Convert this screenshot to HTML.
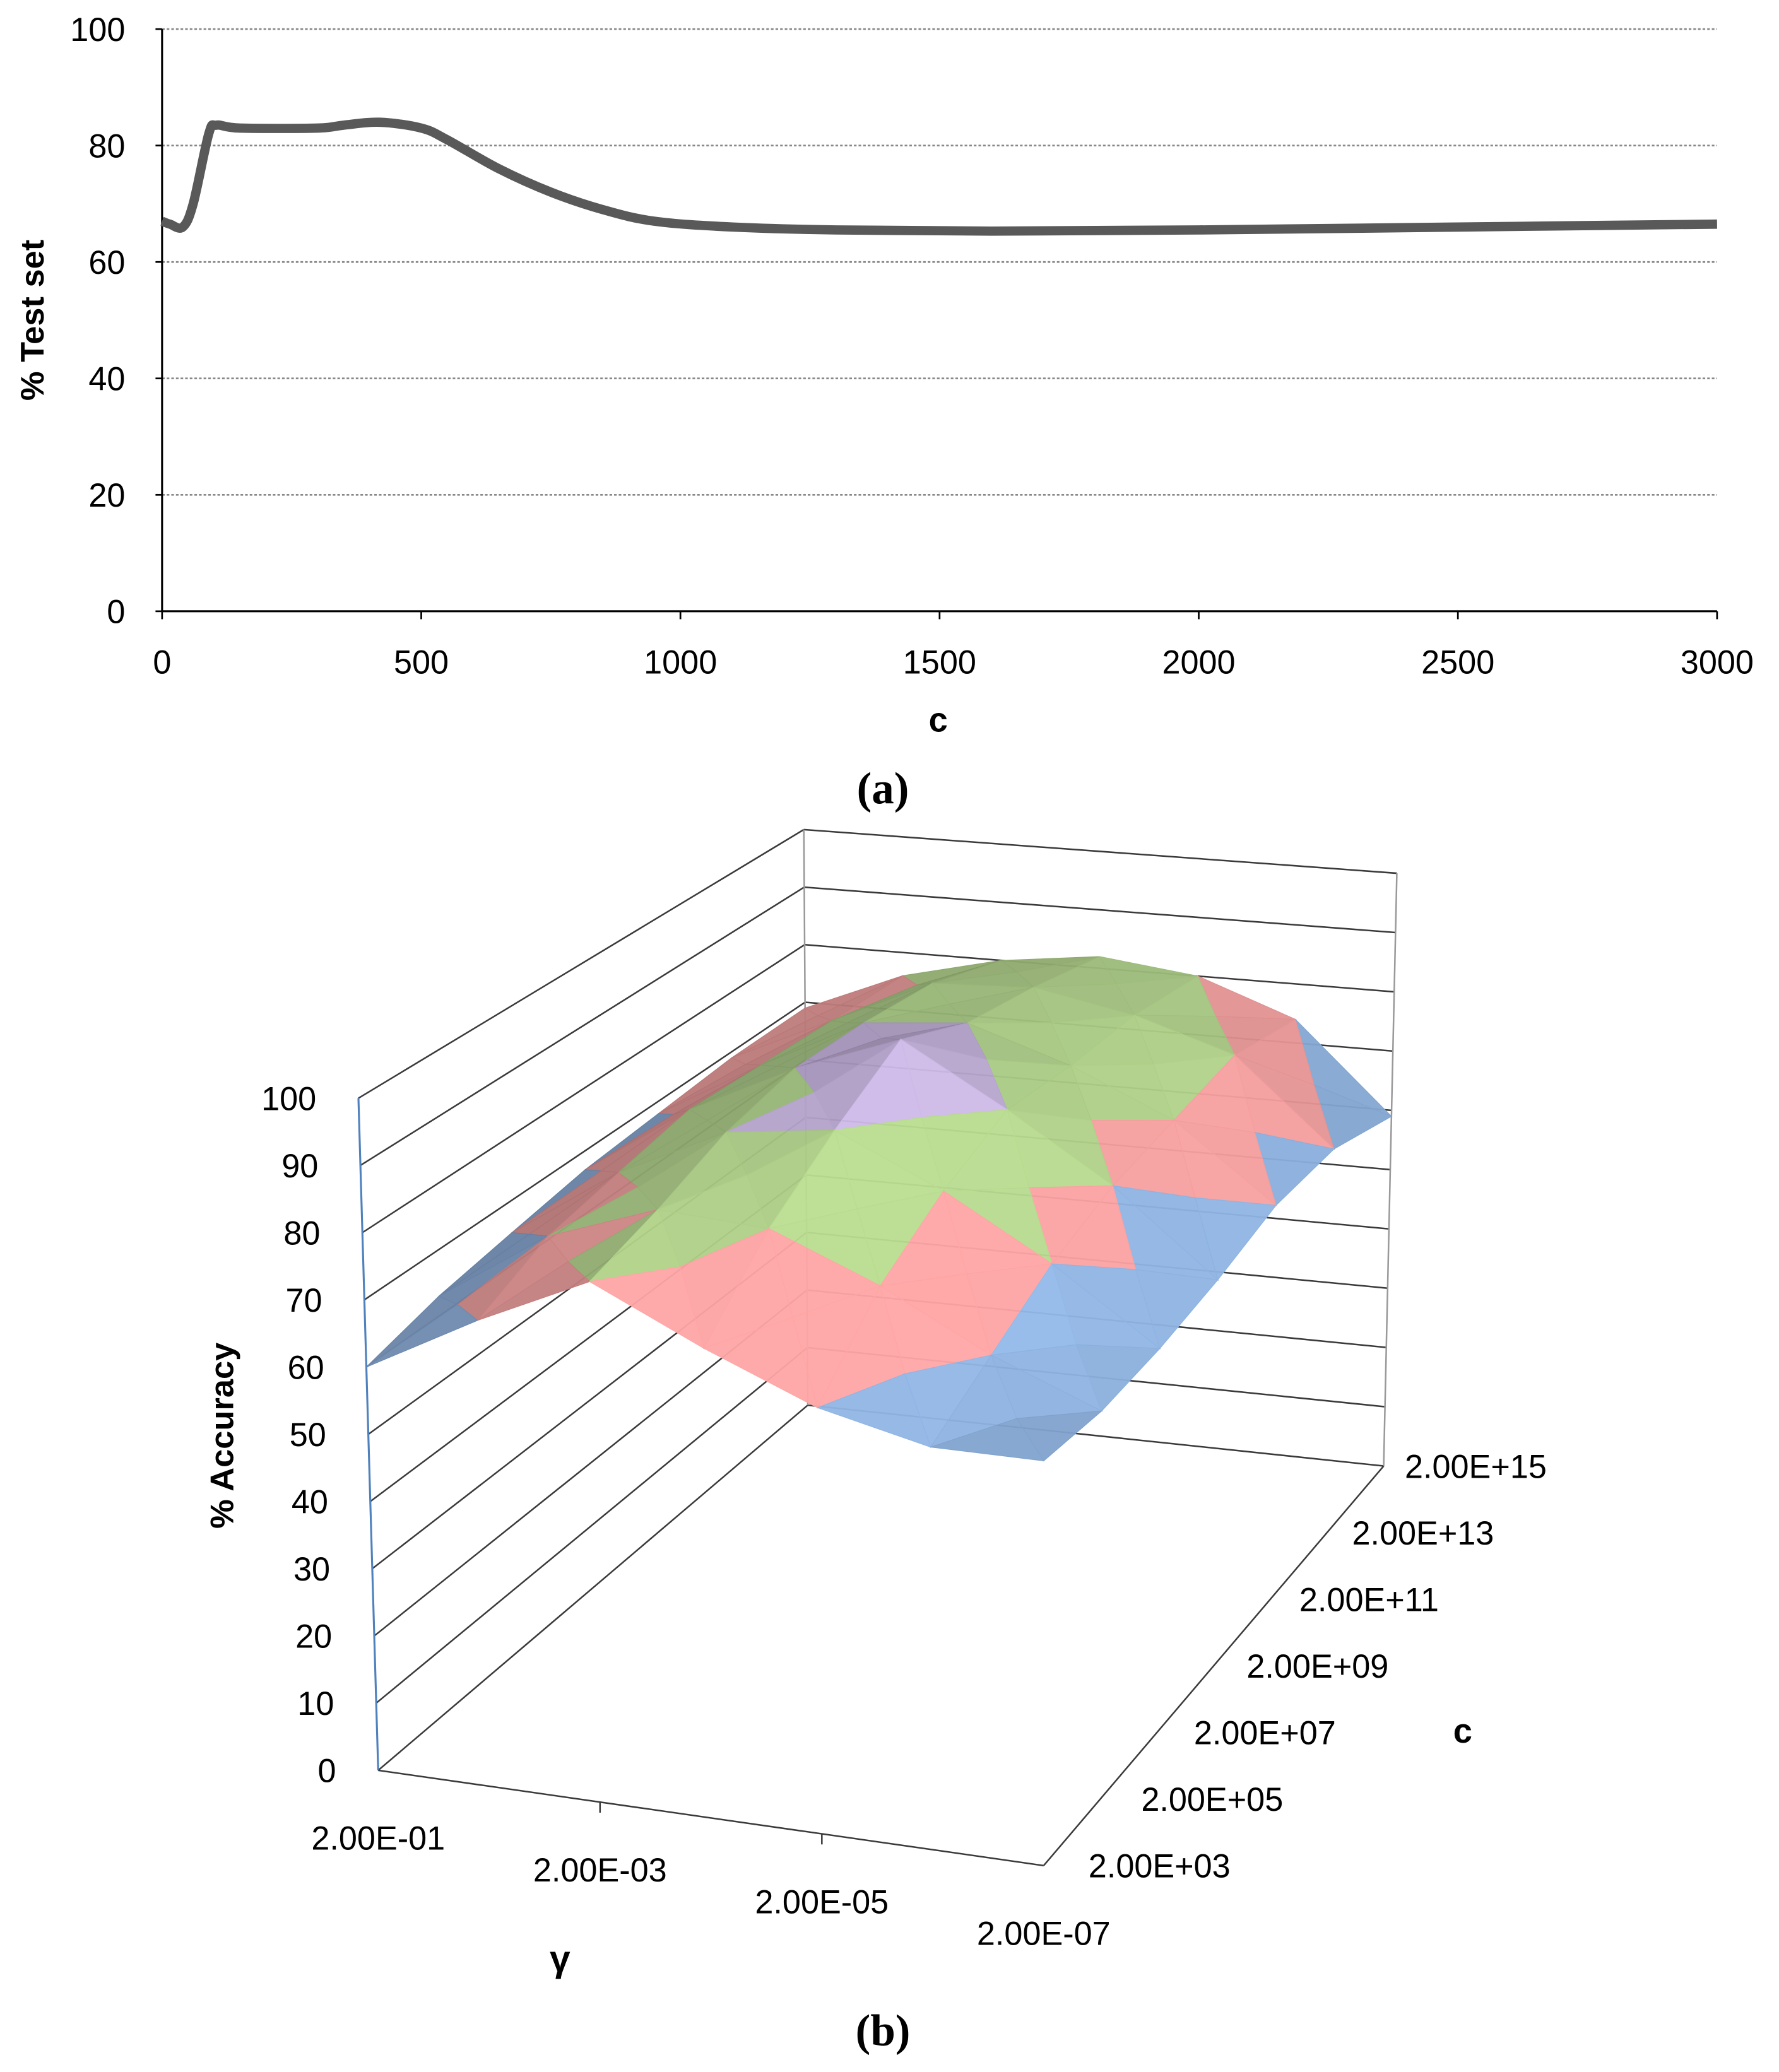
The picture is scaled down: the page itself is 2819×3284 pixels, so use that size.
<!DOCTYPE html>
<html><head><meta charset="utf-8">
<style>
html,body{margin:0;padding:0;background:#fff;}
svg{display:block;}
text{font-family:"Liberation Sans",sans-serif;fill:#000;}
</style></head>
<body>
<svg id="fig" width="2819" height="3284" viewBox="0 0 1350 1566" preserveAspectRatio="none" xmlns="http://www.w3.org/2000/svg">
<rect width="1350" height="1566" fill="#fff"/>
<g id="chartA"></g>
<g id="chartB"></g>
<text x="670" y="607" font-size="34" font-weight="bold" text-anchor="middle" style="font-family:'Liberation Serif',serif">(a)</text>
<text x="670" y="1546" font-size="34" font-weight="bold" text-anchor="middle" style="font-family:'Liberation Serif',serif">(b)</text>
</svg>
<script>
// ---------- Chart A data ----------
const cValues = [0, 15, 40, 60, 90, 105, 150, 300, 350, 420, 500, 550, 650, 750, 850, 950, 1100, 1300, 1600, 2000, 2500, 3000];
const accValues = [67, 66.5, 66, 70, 82, 83.5, 83, 83, 83.5, 84, 83, 81, 76, 72, 69, 67, 66, 65.5, 65.3, 65.5, 66, 66.5];
const xTicksA = [0, 500, 1000, 1500, 2000, 2500, 3000];
const yTicksA = [0, 20, 40, 60, 80, 100];

// ---------- Chart B data ----------
const gammaLabels = ["2.00E-01", "", "2.00E-03", "", "2.00E-05", "", "2.00E-07"];
const cLabels = ["2.00E+03", "2.00E+05", "2.00E+07", "2.00E+09", "2.00E+11", "2.00E+13", "2.00E+15"];
const zTicksB = [0, 10, 20, 30, 40, 50, 60, 70, 80, 90, 100];
// accuracy rows: one per c value (front -> back), columns per gamma value
const accRowC03 = [60, 70, 79, 72, 66, 63, 64];
const accRowC05 = [63, 75, 82, 82, 76, 68, 62];
const accRowC07 = [65, 77, 86, 89, 82, 73, 62];
const accRowC09 = [67, 79, 88, 95, 86, 76, 63];
const accRowC11 = [68, 78, 87, 89, 84, 77, 65];
const accRowC13 = [69, 77, 85, 86, 83, 78, 64];
const accRowC15 = [69, 76, 80, 82, 80, 74, 59];

const NS = "http://www.w3.org/2000/svg";
function mk(tag, attrs, parent) {
  const e = document.createElementNS(NS, tag);
  for (const k in attrs) e.setAttribute(k, attrs[k]);
  parent.appendChild(e);
  return e;
}

// ===== Chart A =====
(function () {
  const g = document.getElementById("chartA");
  const X0 = 123, X1 = 1303, Y0 = 462, Y1 = 22;
  const xs = c => X0 + c / 3000 * (X1 - X0);
  const ys = v => Y0 - v / 100 * (Y0 - Y1);
  yTicksA.forEach(v => {
    if (v > 0) {
      const l = mk("line", {x1: X0, x2: X1, y1: ys(v), y2: ys(v), stroke: "#888", "stroke-width": 1.3, "stroke-dasharray": "2,1.5"}, g);
      
      
    }
    const t = mk("text", {x: X0 - 28, y: ys(v) + 9, "font-size": 25, "text-anchor": "end"}, g);
    t.textContent = v;
    
    
    const tk = mk("line", {x1: X0 - 5, x2: X0, y1: ys(v), y2: ys(v), stroke: "#000", "stroke-width": 1.3}, g);
    
    
  });
  xTicksA.forEach(c => {
    const t = mk("text", {x: xs(c), y: 509, "font-size": 25, "text-anchor": "middle"}, g);
    t.textContent = c;
    
    
    const tk = mk("line", {x1: xs(c), x2: xs(c), y1: Y0, y2: Y0 + 6, stroke: "#000", "stroke-width": 1.3}, g);
    
    
  });
  const ya = mk("line", {x1: X0, x2: X0, y1: Y1, y2: Y0, stroke: "#000", "stroke-width": 1.5}, g);
  
  
  const xa = mk("line", {x1: X0, x2: X1, y1: Y0, y2: Y0, stroke: "#000", "stroke-width": 1.5}, g);
  
  
  const pts = cValues.map((c, i) => [xs(c), ys(accValues[i])]);
  let d = "M" + pts[0][0] + "," + pts[0][1];
  for (let i = 0; i < pts.length - 1; i++) {
    const p0 = pts[Math.max(0, i - 1)], p1 = pts[i], p2 = pts[i + 1], p3 = pts[Math.min(pts.length - 1, i + 2)];
    const c1 = [p1[0] + (p2[0] - p0[0]) / 6, p1[1] + (p2[1] - p0[1]) / 6];
    const c2 = [p2[0] - (p3[0] - p1[0]) / 6, p2[1] - (p3[1] - p1[1]) / 6];
    d += " C" + c1 + " " + c2 + " " + p2;
  }
  const line = mk("path", {d: d, fill: "none", stroke: "#595959", "stroke-width": 7, "stroke-linejoin": "round"}, g);
  
  
  const xt = mk("text", {x: 712, y: 553, "font-size": 26, "font-weight": "bold", "text-anchor": "middle"}, g);
  xt.textContent = "c";
  
  
  const yt = mk("text", {x: 0, y: 0, "font-size": 25, "font-weight": "bold", "text-anchor": "middle", transform: "translate(33,242) rotate(-90)"}, g);
  yt.textContent = "% Test set";
  
  
})();

// ===== Chart B =====
(function () {
  const g = document.getElementById("chartB");
  const rows = [accRowC03, accRowC05, accRowC07, accRowC09, accRowC11, accRowC13, accRowC15];
  const nU = gammaLabels.length, nV = cLabels.length;
  const F00 = [287, 1338], F10 = [792, 1410], F11 = [1050, 1108], F01 = [613, 1062];
  const H00 = [-15, -508], H10 = [0, -478], H11 = [10, -448], H01 = [-3, -435];
  const bil = (a, b, c, d, u, v) => [
    a[0] * (1 - u) * (1 - v) + b[0] * u * (1 - v) + c[0] * u * v + d[0] * (1 - u) * v,
    a[1] * (1 - u) * (1 - v) + b[1] * u * (1 - v) + c[1] * u * v + d[1] * (1 - u) * v];
  function P(u, v, z) {
    const f = bil(F00, F10, F11, F01, u, v), h = bil(H00, H10, H11, H01, u, v);
    return [f[0] + h[0] * z / 100, f[1] + h[1] * z / 100];
  }
  const ln = (a, b, attrs, name) => {
    const l = mk("line", Object.assign({x1: a[0], y1: a[1], x2: b[0], y2: b[1]}, attrs), g);
    
    
    return l;
  };
  const gs = {stroke: "#3a3a3a", "stroke-width": 1.2};
  zTicksB.forEach(z => {
    ln(P(0, 1, z), P(1, 1, z), gs, 'back-wall-gridline');
    ln(P(0, 0, z), P(0, 1, z), gs, 'side-wall-gridline');
    const p = P(0, 0, z);
    const t = mk("text", {x: p[0] - 32, y: p[1] + 9, "font-size": 25, "text-anchor": "end"}, g);
    t.textContent = z;
    
    
  });
  ln(P(0, 1, 0), P(0, 1, 100), {stroke: "#999", "stroke-width": 1.2}, 'back-left-edge');
  ln(P(1, 1, 0), P(1, 1, 100), {stroke: "#999", "stroke-width": 1.2}, 'back-right-edge');
  ln(P(0, 0, 0), P(0, 0, 100), {stroke: "#4f81bd", "stroke-width": 1.5}, 'z-axis');
  ln(P(0, 0, 0), P(1, 0, 0), gs, 'gamma-axis');
  ln(P(1, 0, 0), P(1, 1, 0), gs, 'c-axis');

  const tris = [];
  for (let j = 0; j < nV - 1; j++) for (let i = 0; i < nU - 1; i++) {
    const u0 = i / (nU - 1), u1 = (i + 1) / (nU - 1), v0 = j / (nV - 1), v1 = (j + 1) / (nV - 1);
    const c = [[u0, v0, rows[j][i]], [u1, v0, rows[j][i + 1]], [u1, v1, rows[j + 1][i + 1]], [u0, v1, rows[j + 1][i]]];
    const m = [(u0 + u1) / 2, (v0 + v1) / 2, (c[0][2] + c[1][2] + c[2][2] + c[3][2]) / 4];
    for (let k = 0; k < 4; k++) {
      const a = c[k], b = c[(k + 1) % 4];
      const du = (a[0] + b[0] + m[0]) / 3, dv = (a[1] + b[1] + m[1]) / 3;
      tris.push({pts: [a, b, m], depth: dv + (1 - du) * 0.35});
    }
  }
  tris.sort((p, q) => q.depth - p.depth);
  const band = z => z < 70 ? [143, 180, 227] : z < 78 ? [248, 160, 160] : z < 88 ? [180, 215, 140] : [200, 180, 225];
  tris.forEach(t => {
    const zAvg = (t.pts[0][2] + t.pts[1][2] + t.pts[2][2]) / 3;
    const A = t.pts[0], B = t.pts[1], C = t.pts[2];
    const s = 100;
    const e1 = [(B[0] - A[0]) * s, (B[1] - A[1]) * s, B[2] - A[2]];
    const e2 = [(C[0] - A[0]) * s, (C[1] - A[1]) * s, C[2] - A[2]];
    let n = [e1[1] * e2[2] - e1[2] * e2[1], e1[2] * e2[0] - e1[0] * e2[2], e1[0] * e2[1] - e1[1] * e2[0]];
    if (n[2] < 0) n = n.map(x => -x);
    const L = Math.hypot(n[0], n[1], n[2]);
    const lit = (n[0] * 0.5 - n[1] * 0.5 + n[2] * 0.7) / L;
    const f = Math.max(0.45, Math.min(1.08, 0.55 + 0.5 * lit));
    const col = band(zAvg).map(x => Math.round(Math.min(255, x * f)));
    const sp = t.pts.map(p => P(p[0], p[1], p[2]).map(x => x.toFixed(1)).join(",")).join(" ");
    const poly = mk("polygon", {points: sp, fill: "rgb(" + col + ")", stroke: "rgb(" + col + ")", "stroke-width": 0.6, "fill-opacity": 0.95}, g);
    
    
  });

  gammaLabels.forEach((lab, i) => {
    const u = i / (nU - 1), p = P(u, 0, 0);
    if (i > 0 && i < nU - 1 && lab) ln(p, [p[0], p[1] + 8], {stroke: "#3a3a3a", "stroke-width": 1.2}, 'gamma-tick');
    if (!lab) return;
    const t = mk("text", {x: p[0], y: p[1] + 60, "font-size": 25, "text-anchor": "middle"}, g);
    t.textContent = lab;
    
    
  });
  cLabels.forEach((lab, j) => {
    const v = j / (nV - 1), p = P(1, v, 0);
    const t = mk("text", {x: p[0] + 34 - v * 18, y: p[1] + 9, "font-size": 25, "text-anchor": "start"}, g);
    t.textContent = lab;
    
    
  });
  const ct = mk("text", {x: 1110, y: 1317, "font-size": 26, "font-weight": "bold", "text-anchor": "middle"}, g);
  ct.textContent = "c";
  
  
  const gt = mk("text", {x: 425, y: 1490, "font-size": 28, "font-weight": "bold", "text-anchor": "middle"}, g);
  gt.textContent = "γ";
  
  
  const zt = mk("text", {x: 0, y: 0, "font-size": 25, "font-weight": "bold", "text-anchor": "middle", transform: "translate(177,1085) rotate(-90)"}, g);
  zt.textContent = "% Accuracy";
  
  
})();
</script>
</body></html>
